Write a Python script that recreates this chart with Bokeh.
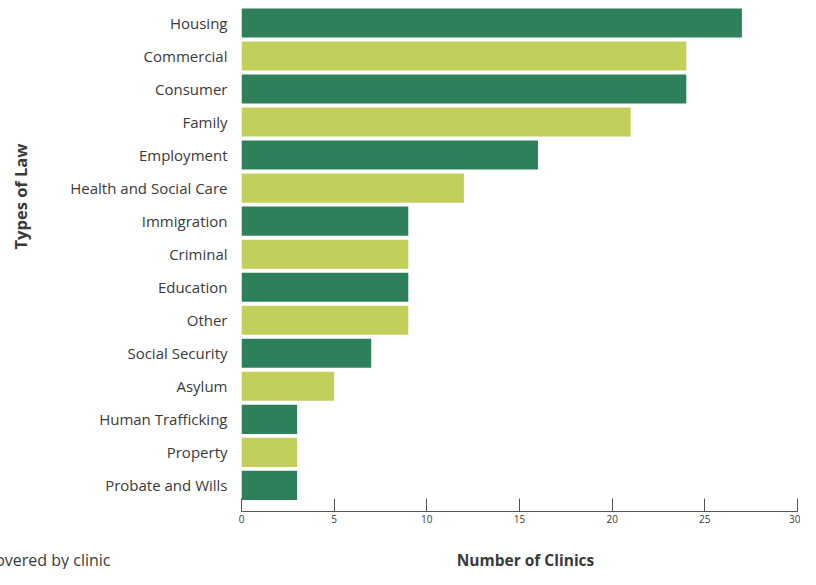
from bokeh.plotting import figure
from bokeh.models import ColumnDataSource, FixedTicker, Label
from bokeh.embed import file_html
from bokeh.resources import INLINE

categories = ["Housing", "Commercial", "Consumer", "Family", "Employment",
              "Health and Social Care", "Immigration", "Criminal", "Education",
              "Other", "Social Security", "Asylum", "Human Trafficking",
              "Property", "Probate and Wills"]
clinics = [27, 24, 24, 21, 16, 12, 9, 9, 9, 9, 7, 5, 3, 3, 3]
x_ticks = [0, 5, 10, 15, 20, 25, 30]

DARK = "#2E805A"
LIGHT = "#C3CF5B"
TEXT = "#3a3a3a"
FONT = "Open Sans"

W, H = 800, 569
n = len(categories)
ypos = [n - 1 - i for i in range(n)]
colors = [DARK if i % 2 == 0 else LIGHT for i in range(n)]
src = ColumnDataSource(dict(y=ypos, v=clinics, c=colors))

p = figure(width=W, height=H, output_backend="svg", toolbar_location=None,
           x_range=(0, 30), y_range=(-0.79, 14.68),
           min_border_left=241, min_border_right=3, min_border_top=0,
           min_border_bottom=20)
p.hbar(y="y", left=0, right="v", height=0.88, color="c", source=src, line_color=None)

p.xgrid.visible = False
p.ygrid.visible = False
p.outline_line_color = None
p.background_fill_color = "white"
p.border_fill_color = "white"

xa = p.xaxis[0]
xa.ticker = FixedTicker(ticks=x_ticks)
xa.major_tick_in = 13
xa.major_tick_out = 0
xa.minor_tick_line_color = None
xa.axis_line_color = "#555555"
xa.major_tick_line_color = "#555555"
xa.major_label_text_font = FONT
xa.major_label_text_font_size = "10px"
xa.major_label_text_color = TEXT
xa.major_label_standoff = 3

ya = p.yaxis[0]
ya.ticker = FixedTicker(ticks=ypos)
ya.major_label_overrides = {y: c for y, c in zip(ypos, categories)}
ya.axis_line_color = None
ya.major_tick_line_color = None
ya.minor_tick_line_color = None
ya.major_label_standoff = 8
ya.major_label_text_font = FONT
ya.major_label_text_font_size = "15px"
ya.major_label_text_color = TEXT

p.add_layout(Label(x=20, y=196, x_units="canvas", y_units="canvas",
                   text="Types of Law", angle=1.5708,
                   text_align="center", text_baseline="middle",
                   text_font=FONT, text_font_style="bold", text_font_size="16.5px",
                   text_color=TEXT), "left")
p.add_layout(Label(x=525, y=559, x_units="canvas", y_units="canvas",
                   text="Number of Clinics",
                   text_align="center", text_baseline="middle",
                   text_font=FONT, text_font_style="bold", text_font_size="15.5px",
                   text_color=TEXT), "below")
p.add_layout(Label(x=110, y=559, x_units="canvas", y_units="canvas",
                   text="Types of law covered by clinic",
                   text_align="right", text_baseline="middle",
                   text_font=FONT, text_font_size="16px", text_color=TEXT), "below")

open("out.html", "w").write(file_html(p, INLINE))
